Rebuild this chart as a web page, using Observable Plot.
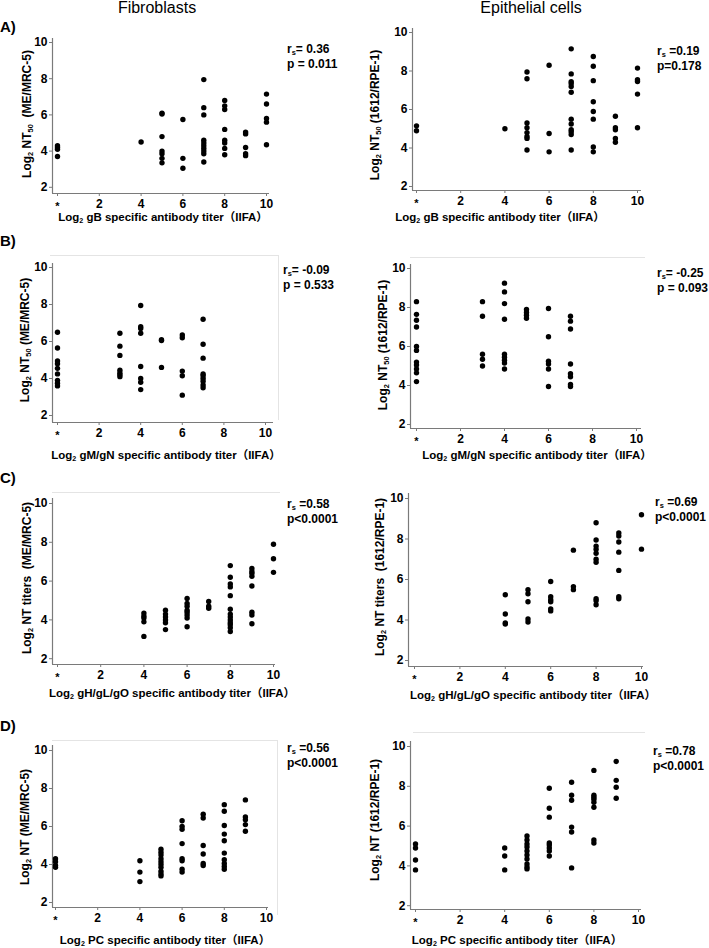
<!DOCTYPE html>
<html><head><meta charset="utf-8">
<script src="https://cdn.jsdelivr.net/npm/d3@7"></script>
<script src="https://cdn.jsdelivr.net/npm/@observablehq/plot@0.6"></script>
<style>
body{margin:0;background:#fff;}
#root{position:relative;width:709px;height:948px;overflow:hidden;background:#fff;font-family:"Liberation Sans",Arial,"Noto Sans CJK SC",sans-serif;color:#000;}
.t{position:absolute;white-space:pre;line-height:12px;font-size:12px;font-weight:bold;}
.hd{position:absolute;white-space:nowrap;font-size:16px;line-height:16px;font-weight:normal;transform:translateX(-50%);}
.lt{position:absolute;white-space:nowrap;font-size:15px;line-height:15px;font-weight:bold;}
.xt{position:absolute;white-space:pre;font-size:11.5px;line-height:12px;font-weight:bold;transform:translateX(-50%);}
.yt{position:absolute;white-space:pre;font-size:12px;line-height:12px;font-weight:bold;transform:translate(-50%,-50%) rotate(-90deg);}
sub{font-size:0.62em;vertical-align:-0.3em;line-height:0;}
svg{position:absolute;overflow:visible;}
</style></head>
<body><div id="root"></div>
<script>
// ---- tick values / labels ----
const xTicks = [0, 2, 4, 6, 8, 10];
const xTickLabels = ["*", "2", "4", "6", "8", "10"];
const yTicks = [2, 4, 6, 8, 10];

// ---- data: [x (log2 IIFA titer, 0 = "*"), [log2 NT values]] ----
const fibroGB = [
  [0, [4.3, 4.2, 4.1, 3.7]],
  [4, [4.5]],
  [5, [6.1, 6.05, 4.8, 4.0, 3.85, 3.6, 3.35]],
  [6, [5.75, 3.6, 3.05]],
  [7, [7.95, 6.4, 6.0, 4.6, 4.45, 4.3, 4.15, 4.0, 3.85, 3.4]],
  [8, [6.8, 6.5, 6.3, 5.2, 4.6, 4.45, 4.15, 3.8]],
  [9, [5.05, 4.95, 4.2, 3.85, 3.75]],
  [10, [7.15, 6.6, 5.8, 5.6, 4.35]]
];
const epiGB = [
  [0, [5.15, 4.9]],
  [4, [5.0]],
  [5, [7.95, 7.6, 5.3, 5.05, 4.8, 4.6, 4.5, 3.9]],
  [6, [8.3, 4.75, 3.8]],
  [7, [9.15, 7.85, 7.45, 7.35, 7.2, 6.9, 5.5, 5.25, 4.95, 4.85, 4.7, 3.9]],
  [8, [8.75, 8.25, 7.5, 6.4, 5.9, 5.5, 4.05, 3.8]],
  [9, [5.65, 5.05, 4.95, 4.5, 4.3]],
  [10, [8.15, 7.55, 7.45, 6.8, 5.05]]
];
const fibroGMGN = [
  [0, [6.5, 5.65, 4.95, 4.8, 4.55, 4.25, 3.9, 3.75, 3.6]],
  [3, [6.45, 5.75, 5.25, 4.45, 4.3, 4.2, 4.1]],
  [4, [7.95, 6.8, 6.7, 6.45, 4.65, 4.0, 3.8, 3.4]],
  [5, [6.1, 6.05, 4.6]],
  [6, [6.35, 6.2, 4.4, 4.15, 3.1]],
  [7, [7.2, 5.85, 5.1, 4.25, 4.15, 4.0, 3.85, 3.65, 3.5]]
];
const epiGMGN = [
  [0, [8.3, 7.65, 7.35, 7.0, 6.0, 5.8, 5.2, 5.05, 4.85, 4.65, 4.2]],
  [3, [8.3, 7.55, 5.6, 5.35, 5.0]],
  [4, [9.25, 8.8, 8.2, 7.4, 5.6, 5.45, 5.3, 5.15, 4.85]],
  [5, [7.9, 7.75, 7.6, 7.45]],
  [6, [7.95, 6.5, 5.25, 5.1, 4.85, 3.95]],
  [7, [7.55, 7.3, 6.9, 5.1, 4.6, 4.45, 4.05, 3.95]]
];
const fibroGHGLGO = [
  [4, [4.35, 4.2, 4.1, 3.9, 3.15]],
  [5, [4.5, 4.3, 4.15, 4.0, 3.85, 3.5]],
  [6, [5.1, 4.85, 4.7, 4.5, 4.4, 4.25, 4.1, 3.65]],
  [7, [4.95, 4.7, 4.6]],
  [8, [6.8, 6.2, 5.85, 5.7, 5.25, 4.55, 4.3, 4.15, 4.0, 3.85, 3.75, 3.6, 3.4]],
  [9, [6.65, 6.5, 6.4, 6.25, 5.75, 4.4, 4.25, 3.8]],
  [10, [7.9, 7.15, 6.45]]
];
const epiGHGLGO = [
  [4, [5.25, 4.3, 3.85, 3.8]],
  [5, [5.5, 5.3, 4.9, 4.05, 3.9]],
  [6, [5.9, 5.15, 5.0, 4.9, 4.55, 4.45]],
  [7, [7.45, 5.65, 5.5]],
  [8, [8.8, 7.95, 7.65, 7.5, 7.3, 7.0, 6.85, 5.05, 4.95, 4.75]],
  [9, [8.3, 8.15, 7.85, 7.35, 6.45, 5.15, 5.05]],
  [10, [9.2, 7.5]]
];
const fibroPC = [
  [0, [4.3, 4.15, 3.95, 3.85]],
  [4, [4.2, 3.6, 3.1]],
  [5, [4.8, 4.65, 4.5, 4.3, 4.15, 4.0, 3.85, 3.65, 3.5, 3.4]],
  [6, [6.3, 6.0, 5.85, 5.1, 4.3, 4.2, 3.75, 3.6]],
  [7, [6.65, 6.45, 5.0, 4.55, 4.05, 3.95]],
  [8, [7.15, 6.8, 6.05, 5.6, 5.25, 4.6, 4.25, 4.05, 3.9, 3.75]],
  [9, [7.4, 6.5, 6.35, 6.1, 5.75]]
];
const epiPC = [
  [0, [5.1, 4.9, 4.3, 3.8]],
  [4, [4.9, 4.5, 3.8]],
  [5, [5.5, 5.3, 5.1, 4.95, 4.75, 4.55, 4.35, 4.1, 3.95, 3.85]],
  [6, [7.9, 6.9, 6.45, 5.15, 5.05, 4.9, 4.75, 4.5]],
  [7, [8.2, 7.55, 7.3, 5.95, 5.7, 3.9]],
  [8, [8.8, 7.55, 7.45, 7.35, 7.2, 6.95, 5.3, 5.15]],
  [9, [9.25, 8.3, 7.95, 7.4]]
];

// ---- statistics text ----
const rsText = ["= 0.36", " =0.19", "= -0.09", "= -0.25", " =0.58", " =0.69", " =0.56", " =0.78"];
const pText  = ["p = 0.011", "p=0.178", "p = 0.533", "p = 0.093", "p<0.0001", "p<0.0001", "p<0.0001", "p<0.0001"];

// ---- titles ----
const columnTitles = ["Fibroblasts", "Epithelial cells"];
const panelLetters = ["A)", "B)", "C)", "D)"];
const antigenNames = ["gB", "gM/gN", "gH/gL/gO", "PC"];
const yTitles = [
  "Log<sub>2</sub> NT<sub>50</sub>  (ME/MRC-5)", "Log<sub>2</sub> NT<sub>50</sub> (1612/RPE-1)",
  "Log<sub>2</sub> NT<sub>50</sub> (ME/MRC-5)", "Log<sub>2</sub> NT<sub>50</sub> (1612/RPE-1)",
  "Log<sub>2</sub> NT titers  (ME/MRC-5)", "Log<sub>2</sub> NT titers  (1612/RPE-1)",
  "Log<sub>2</sub> NT (ME/MRC-5)", "Log<sub>2</sub> NT (1612/RPE-1)"
];
const datasets = [fibroGB, epiGB, fibroGMGN, epiGMGN, fibroGHGLGO, epiGHGLGO, fibroPC, epiPC];

// ---- layout (page pixels) ----
const layout = [
  {left:0,   top:20,  w:355, h:195, x0:57,  kx:20.9, y10:42,  ky:18.1,  xl:52,  xr:269, yt:38,  yb:193, rs:[287,53],  xt:[163,221], ytc:[27,114]},
  {left:355, top:20,  w:354, h:195, x0:416, kx:22.1, y10:32,  ky:19.25, xl:412, xr:641, yt:28,  yb:190, rs:[657,55],  xt:[500,221], ytc:[375,115]},
  {left:0,   top:245, w:355, h:200, x0:57,  kx:20.8, y10:267, ky:18.5,  xl:52,  xr:273, yt:263, yb:422, rs:[283,274], xt:[166,459], ytc:[25,340], faintTop:[255,50,278], faintRight:[278,255,420]},
  {left:355, top:245, w:354, h:200, x0:416, kx:22.0, y10:268, ky:19.5,  xl:410, xr:641, yt:264, yb:428, rs:[657,277], xt:[537,459], ytc:[383,345], faintTop:[257,410,645]},
  {left:0,   top:485, w:355, h:200, x0:57,  kx:21.6, y10:503, ky:19.4,  xl:52,  xr:275, yt:498, yb:664, rs:[287,508], xt:[172,697], ytc:[27,578], faintTop:[492,52,280]},
  {left:355, top:485, w:354, h:200, x0:414, kx:22.7, y10:498, ky:20.25, xl:408, xr:643, yt:493, yb:666, rs:[655,506], xt:[533,699], ytc:[380,577]},
  {left:0,   top:725, w:355, h:200, x0:55,  kx:21.1, y10:750, ky:19.0,  xl:52,  xr:268, yt:745, yb:907, rs:[287,752], xt:[165,944], ytc:[25,827], faintTop:[740,52,277], faintRight:[277,740,915]},
  {left:355, top:725, w:354, h:200, x0:415, kx:22.3, y10:746, ky:19.9,  xl:410, xr:641, yt:741, yb:909, rs:[653,755], xt:[517,944], ytc:[375,820], faintTop:[732,413,645]}
];

const root = document.getElementById("root");
function addDiv(cls, html, left, top) {
  const d = document.createElement("div");
  d.className = cls; d.innerHTML = html;
  d.style.left = left + "px"; d.style.top = top + "px";
  root.appendChild(d);
  return d;
}

const AXIS = "#7a7a7a";
layout.forEach((L, i) => {
  const xd = [(L.xl - L.x0) / L.kx, (L.xr - L.x0) / L.kx];
  const yd = [10 - (L.yb - L.y10) / L.ky, 10 - (L.yt - L.y10) / L.ky];
  const toX = px => (px - L.x0) / L.kx;
  const toY = py => 10 - (py - L.y10) / L.ky;
  const pts = datasets[i].flatMap(([x, ys]) => ys.map(y => ({x, y})));
  const marks = [];
  if (L.faintTop) marks.push(Plot.ruleY([toY(L.faintTop[0])], {x1: toX(L.faintTop[1]), x2: toX(L.faintTop[2]), stroke: "#e4e4e4"}));
  if (L.faintRight) marks.push(Plot.ruleX([toX(L.faintRight[0])], {y1: toY(L.faintRight[1]), y2: toY(L.faintRight[2]), stroke: "#e4e4e4"}));
  marks.push(
    Plot.ruleX([xd[0]], {stroke: AXIS, strokeWidth: 1.2}),
    Plot.ruleY([yd[0]], {stroke: AXIS, strokeWidth: 1.2}),
    Plot.axisY(yTicks, {anchor: "left", tickSize: 3, tickPadding: 2, label: null, stroke: AXIS, tickFormat: d => String(d)}),
    Plot.axisX(xTicks, {anchor: "bottom", tickSize: 3, tickPadding: 2.5, label: null, stroke: AXIS,
      tickFormat: d => d === 0 ? "" : xTickLabels[xTicks.indexOf(d)]}),
    Plot.text([xTicks[0]], {x: d => d, y: () => yd[0], text: () => xTickLabels[0], dy: 13, fontSize: 11, fontWeight: "bold", fill: "#000"}),
    Plot.dot(pts, {x: "x", y: "y", r: 2.7, fill: "#000", stroke: "none"})
  );
  const svg = Plot.plot({
    width: L.w, height: L.h,
    marginLeft: L.xl - L.left, marginRight: L.left + L.w - L.xr,
    marginTop: L.yt - L.top, marginBottom: L.top + L.h - L.yb,
    x: {domain: xd}, y: {domain: yd},
    style: {fontFamily: "'Liberation Sans', Arial, sans-serif", fontSize: "12px", fontWeight: "bold", color: "#000", background: "transparent", overflow: "visible"},
    marks
  });
  svg.style.left = L.left + "px"; svg.style.top = L.top + "px";
  root.appendChild(svg);

  // statistics
  addDiv("t", "r<sub>s</sub>" + rsText[i], L.rs[0], L.rs[1] - 10);
  addDiv("t", pText[i], L.rs[0], L.rs[1] + 15 - 10);
  // axis titles
  addDiv("xt", "Log<sub>2</sub> " + antigenNames[Math.floor(i / 2)] + " specific antibody titer（IIFA）", L.xt[0], L.xt[1] - 10);
  addDiv("yt", yTitles[i], L.ytc[0], L.ytc[1]);
});

addDiv("hd", columnTitles[0], 157, 0);
addDiv("hd", columnTitles[1], 531, 0);
[31, 245, 482, 730].forEach((b, k) => addDiv("lt", panelLetters[k], 0, b - 12.5));
</script>
</body></html>
